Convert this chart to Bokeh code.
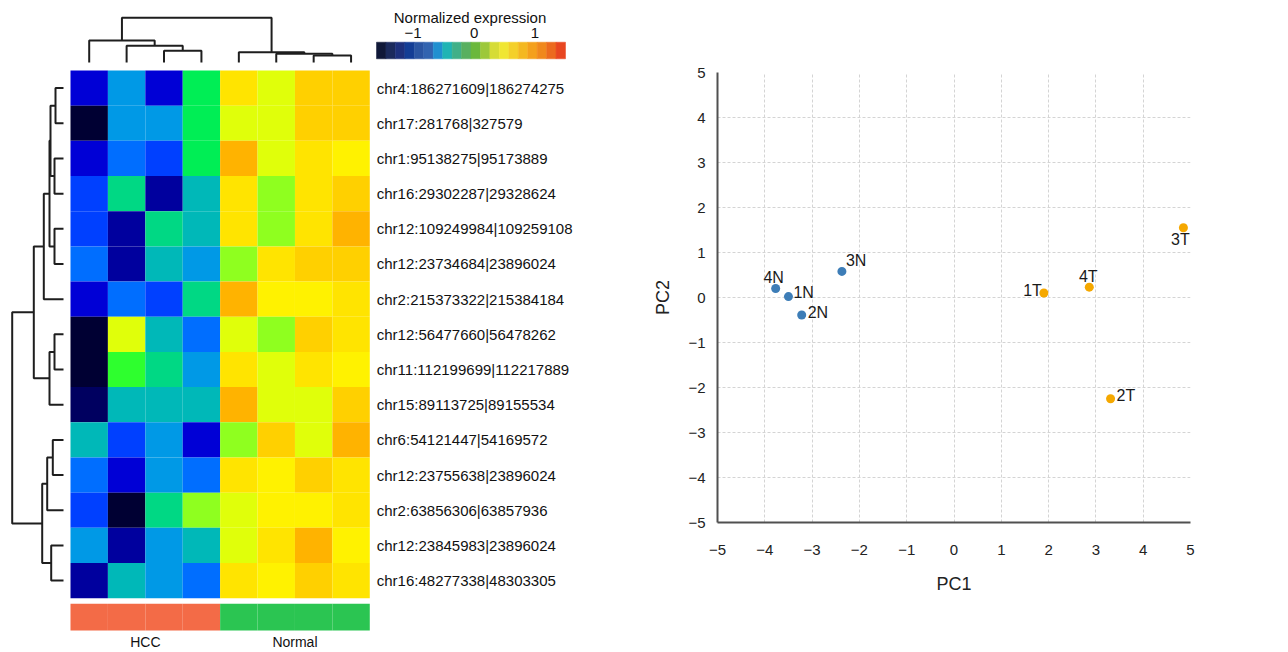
from bokeh.plotting import figure
from bokeh.layouts import row
from bokeh.models import Range1d, ColumnDataSource, FixedTicker
from bokeh.transform import linear_cmap, factor_cmap
from bokeh.core.properties import value
from bokeh.embed import file_html
from bokeh.resources import INLINE

# ---------------- data ----------------
row_labels = [
    "chr4:186271609|186274275",
    "chr17:281768|327579",
    "chr1:95138275|95173889",
    "chr16:29302287|29328624",
    "chr12:109249984|109259108",
    "chr12:23734684|23896024",
    "chr2:215373322|215384184",
    "chr12:56477660|56478262",
    "chr11:112199699|112217889",
    "chr15:89113725|89155534",
    "chr6:54121447|54169572",
    "chr12:23755638|23896024",
    "chr2:63856306|63857936",
    "chr12:23845983|23896024",
    "chr16:48277338|48303305",
]
col_groups = ["HCC", "HCC", "HCC", "HCC", "Normal", "Normal", "Normal", "Normal"]
group_names = ["HCC", "Normal"]
group_colors = ["#F36B47", "#2BC552"]

# normalized expression (rows x 8 samples)
expr = [
    [-0.94, -0.38, -0.94,  0.19,  1.13,  0.75,  1.32,  1.32],
    [-1.51, -0.38, -0.38,  0.19,  0.75,  0.75,  1.32,  1.32],
    [-0.94, -0.56, -0.75,  0.19,  1.51,  0.75,  1.13,  0.94],
    [-0.75,  0.00, -1.13, -0.19,  1.13,  0.56,  1.13,  1.32],
    [-0.75, -1.13,  0.00, -0.19,  1.13,  0.56,  1.13,  1.51],
    [-0.56, -1.13, -0.19, -0.38,  0.56,  1.13,  1.32,  1.32],
    [-0.94, -0.56, -0.75,  0.00,  1.51,  0.94,  0.94,  1.13],
    [-1.51,  0.75, -0.19, -0.56,  0.75,  0.56,  1.32,  1.13],
    [-1.51,  0.38,  0.00, -0.38,  1.13,  0.75,  1.13,  0.94],
    [-1.32, -0.19, -0.19, -0.19,  1.51,  0.75,  0.75,  1.32],
    [-0.19, -0.75, -0.38, -0.94,  0.56,  1.32,  0.75,  1.51],
    [-0.56, -0.94, -0.38, -0.56,  1.13,  0.94,  1.32,  1.13],
    [-0.75, -1.51,  0.00,  0.56,  0.75,  0.94,  0.94,  1.13],
    [-0.38, -1.13, -0.38, -0.19,  0.75,  1.13,  1.51,  0.94],
    [-1.13, -0.19, -0.38, -0.56,  1.13,  0.94,  1.32,  1.13],
]
heat_low, heat_high = -1.6, 1.6
heat_palette = [
    "#000033", "#000060", "#00009E", "#0000D6", "#0040FF", "#006EFF",
    "#0099E6", "#00B8B8", "#00D884", "#00EE55", "#2EFF2E", "#8FFF1F",
    "#E0FF0A", "#FFF200", "#FFE400", "#FFD000", "#FFB300",
]

# dendrograms: (child a, child b, merge height); leaves in display order
row_linkage = [
    (0, 1, 0.80), (2, 3, 0.90), (4, 5, 0.90), (15, 16, 1.30), (18, 17, 1.40),
    (19, 6, 1.97), (7, 8, 0.90), (21, 9, 1.40), (20, 22, 2.97), (10, 11, 1.07),
    (24, 12, 1.63), (13, 14, 1.23), (25, 26, 2.13), (23, 27, 5.13),
]
col_linkage = [
    (2, 3, 1.17), (1, 8, 1.67), (0, 9, 2.20), (6, 7, 0.70), (5, 11, 0.87),
    (4, 12, 1.03), (10, 13, 4.47),
]

legend_title = "Normalized expression"
legend_low, legend_high = -1.6, 1.5
legend_palette = [
    "#101838", "#1B2A5C", "#1D307C", "#133D95", "#2A55A2", "#3264B0",
    "#2090D0", "#20B4B4", "#40B088", "#58B060", "#6AB83C", "#9CC83A",
    "#D6DC36", "#F0E632", "#F4D02A", "#F4B820", "#F4A01C", "#F0881C",
    "#EC6A1E", "#E84620",
]
legend_ticks = [-1, 0, 1]
legend_tick_labels = ["\u22121", "0", "1"]

samples = ["1N", "2N", "3N", "4N", "1T", "2T", "3T", "4T"]
pc1 = [-3.50, -3.22, -2.37, -3.77, 1.90, 3.31, 4.85, 2.86]
pc2 = [0.02, -0.39, 0.58, 0.20, 0.10, -2.25, 1.55, 0.23]
sample_group = ["Normal", "Normal", "Normal", "Normal", "HCC", "HCC", "HCC", "HCC"]
axis_ticks = [-5, -4, -3, -2, -1, 0, 1, 2, 3, 4, 5]
axis_tick_labels = ["\u22125", "\u22124", "\u22123", "\u22122", "\u22121", "0", "1", "2", "3", "4", "5"]

# ---------------- layout constants (px) ----------------
FONT = value("Liberation Sans")
W1, H = 644, 650
W2 = 636
PAGE = 0
HM_X0, HM_Y0 = 70.0, 70.0         # heatmap top-left on page
CW, RH = 37.41, 35.18             # cell size
DEND_PX = 10.0                    # px per dendrogram height unit
ROW_LEAF_GAP, COL_LEAF_GAP = 7.0, 8.0
LEG_X0, LEG_X1, LEG_Y0, LEG_Y1 = 376.0, 565.0, 41.7, 58.3
LEG_TICK_Y, LEG_TITLE_Y = 32.0, 17.0
BAR_Y0, BAR_Y1 = 603.3, 630.0
GROUP_LABEL_Y = 641.5

nrow, ncol = len(expr), len(expr[0])


def ux(px):
    return (px - HM_X0) / CW


def uy(py):
    return (py - HM_Y0) / RH


p = figure(
    width=W1, height=H, output_backend="svg", toolbar_location=None,
    x_range=Range1d(ux(PAGE), ux(PAGE + W1)),
    y_range=Range1d(uy(PAGE + H), uy(PAGE)),
    x_axis_type=None, y_axis_type=None,
    min_border=0, min_border_left=0, min_border_right=0,
    min_border_top=0, min_border_bottom=0,
)
p.frame_align = False
p.outline_line_color = None
p.background_fill_color = "white"

# heatmap cells
cx, cy, cv = [], [], []
for r in range(nrow):
    for c in range(ncol):
        cx.append(c + 0.5)
        cy.append(r + 0.5)
        cv.append(expr[r][c])
src = ColumnDataSource(dict(x=cx, y=cy, v=cv))
p.rect(x="x", y="y", width=1, height=1, source=src, line_color=None,
       fill_color=linear_cmap("v", heat_palette, heat_low, heat_high))


def dendro(n, linkage):
    pos = {i: i + 0.5 for i in range(n)}
    hgt = {i: 0.0 for i in range(n)}
    along, height = [], []
    for k, (a, b, h) in enumerate(linkage):
        node = n + k
        along.append([pos[a], pos[a], pos[b], pos[b]])
        height.append([hgt[a], h, h, hgt[b]])
        pos[node] = (pos[a] + pos[b]) / 2.0
        hgt[node] = h
    return along, height


ra, rh = dendro(nrow, row_linkage)
p.multi_line(
    xs=[[-(ROW_LEAF_GAP + h * DEND_PX) / CW for h in hs] for hs in rh],
    ys=ra, line_color="#1e1e1e", line_width=2)

ca, ch = dendro(ncol, col_linkage)
p.multi_line(
    xs=ca,
    ys=[[-(COL_LEAF_GAP + h * DEND_PX) / RH for h in hs] for hs in ch],
    line_color="#1e1e1e", line_width=2)

# row labels
p.text(x=[ncol] * nrow, y=[r + 0.5 for r in range(nrow)], text=row_labels,
       x_offset=7, text_align="left", text_baseline="middle",
       text_font=FONT, text_font_size="15px", text_color="#111111")

# group annotation bar
gcol = {g: col for g, col in zip(group_names, group_colors)}
p.quad(left=list(range(ncol)), right=[c + 1 for c in range(ncol)],
       top=[uy(BAR_Y0)] * ncol, bottom=[uy(BAR_Y1)] * ncol,
       fill_color=[gcol[g] for g in col_groups], line_color=None)
gx = []
for g in group_names:
    idx = [i for i, cg in enumerate(col_groups) if cg == g]
    gx.append((min(idx) + max(idx) + 1) / 2.0)
p.text(x=gx, y=[uy(GROUP_LABEL_Y)] * len(group_names), text=group_names,
       text_align="center", text_baseline="middle", text_font=FONT,
       text_font_size="14px", text_color="#111111")

# colour key
nleg = len(legend_palette)


def leg_px(v):
    return LEG_X0 + (v - legend_low) / (legend_high - legend_low) * (LEG_X1 - LEG_X0)


step = (legend_high - legend_low) / nleg
p.quad(left=[ux(leg_px(legend_low + i * step)) for i in range(nleg)],
       right=[ux(leg_px(legend_low + (i + 1) * step)) for i in range(nleg)],
       top=[uy(LEG_Y0)] * nleg, bottom=[uy(LEG_Y1)] * nleg,
       fill_color=legend_palette, line_color=legend_palette, line_width=0.5)
p.text(x=[ux(leg_px(t)) for t in legend_ticks], y=[uy(LEG_TICK_Y)] * len(legend_ticks),
       text=legend_tick_labels, text_align="center", text_baseline="middle",
       text_font=FONT, text_font_size="15px", text_color="#111111")
p.text(x=[ux((LEG_X0 + LEG_X1) / 2.0 - 1)], y=[uy(LEG_TITLE_Y)], text=[legend_title],
       text_align="center", text_baseline="middle", text_font=FONT,
       text_font_size="15px", text_color="#111111")

# ---------------- PCA scatter ----------------
p2 = figure(
    width=W2, height=H, output_backend="svg", toolbar_location=None,
    x_range=Range1d(-5, 5), y_range=Range1d(-5, 5),
    min_border_left=73, min_border_right=90, min_border_top=72, min_border_bottom=128,
)
p2.frame_align = False
p2.outline_line_color = None
for ax, lab in ((p2.xaxis, "PC1"), (p2.yaxis, "PC2")):
    ax.ticker = FixedTicker(ticks=axis_ticks)
    ax.major_label_overrides = {t: s for t, s in zip(axis_ticks, axis_tick_labels)}
    ax.axis_label = lab
    ax.axis_line_color = "#505050"
    ax.axis_line_width = 2
    ax.major_tick_line_color = None
    ax.minor_tick_line_color = None
    ax.major_label_text_font = "Liberation Sans"
    ax.major_label_text_font_size = "15px"
    ax.major_label_text_color = "#222222"
    ax.axis_label_text_font = "Liberation Sans"
    ax.axis_label_text_font_size = "18px"
    ax.axis_label_text_font_style = "normal"
    ax.axis_label_text_color = "#222222"
p2.xaxis.major_label_standoff = 16
p2.yaxis.major_label_standoff = 6
p2.xaxis.axis_label_standoff = 16
p2.yaxis.axis_label_standoff = 12
for g in (p2.xgrid, p2.ygrid):
    g.ticker = FixedTicker(ticks=axis_ticks)
    g.grid_line_color = "#d4d4d4"
    g.grid_line_dash = "3 2"
    g.grid_line_width = 1

label_layout = {
    "4N": ("center", -2, -11), "1N": ("left", 5, -4), "2N": ("left", 6, -3),
    "3N": ("left", 4, -11), "1T": ("right", -2, -3), "4T": ("center", -1, -11),
    "3T": ("center", -3, 12), "2T": ("left", 6, -3),
}
ssrc = ColumnDataSource(dict(
    x=pc1, y=pc2, name=samples, group=sample_group,
    align=[label_layout[s][0] for s in samples],
    dx=[label_layout[s][1] for s in samples],
    dy=[label_layout[s][2] for s in samples],
))
p2.scatter(x="x", y="y", source=ssrc, size=9, line_color=None,
           fill_color=factor_cmap("group", ["#3D7DB7", "#F5A800"], ["Normal", "HCC"]))
p2.text(x="x", y="y", text="name", source=ssrc, x_offset="dx", y_offset="dy",
        text_align="align", text_baseline="middle", text_font=FONT,
        text_font_size="16px", text_color="#1a1a1a")

layout = row(p, p2)
open("out.html", "w").write(file_html(layout, INLINE))
